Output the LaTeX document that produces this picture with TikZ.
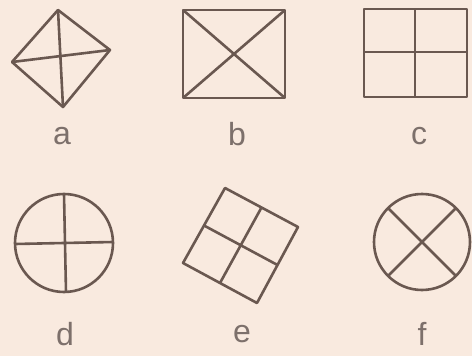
\documentclass[tikz,border=0pt]{standalone}
\usepackage{fontspec}
\setmainfont{Liberation Sans}
\usetikzlibrary{calc}
\definecolor{bg}{HTML}{F9EADF}
\definecolor{ink}{HTML}{6A5850}
\definecolor{txt}{HTML}{7D706B}
\begin{document}
\begin{tikzpicture}[x=1pt,y=-1pt,
  fig/.style={draw=ink,line width=2.6pt,line join=round},
  lbl/.style={text=txt,font=\fontsize{32}{32}\selectfont,inner sep=0pt}]
\fill[bg] (0,0) rectangle (472,356);
\useasboundingbox (0,0) rectangle (472,356);
% a: diamond
\coordinate (aT) at (58,10); \coordinate (aR) at (110,50);
\coordinate (aB) at (63,107); \coordinate (aL) at (12,62);
\draw[fig] (aT) -- (aR) -- (aB) -- (aL) -- cycle;
\draw[fig] (aT) -- (aB); \draw[fig] (aL) -- (aR);
\node[lbl] (la) at (62,136) {a};
% b: rectangle with diagonals
\coordinate (bTL) at (183,10); \coordinate (bTR) at (285,10);
\coordinate (bBR) at (285,98); \coordinate (bBL) at (183,98);
\draw[fig] (bTL) -- (bTR) -- (bBR) -- (bBL) -- cycle;
\draw[fig] (bTL) -- (bBR); \draw[fig] (bTR) -- (bBL);
\node[lbl] (lb) at (237,134) {b};
% c: square grid
\coordinate (cTL) at (364,9); \coordinate (cBR) at (467,97);
\draw[fig] (cTL) rectangle (cBR);
\coordinate (cT) at (415,9); \coordinate (cB) at (415,97);
\coordinate (cL) at (364,52); \coordinate (cR) at (467,52);
\draw[fig] (cT) -- (cB); \draw[fig] (cL) -- (cR);
\node[lbl] (lc) at (419,136) {c};
% d: circle with cross
\coordinate (dC) at (64,243);
\draw[fig] (dC) circle[radius=49];
\coordinate (dT) at (64,194); \coordinate (dB) at (66,292);
\coordinate (dL) at (15,244); \coordinate (dR) at (113,242);
\draw[fig] (dT) -- (dB); \draw[fig] (dL) -- (dR);
\node[lbl] (ld) at (65,334) {d};
% e: rotated grid
\coordinate (eT) at (225,188); \coordinate (eR) at (298,227);
\coordinate (eB) at (257,303); \coordinate (eL) at (183,263);
\draw[fig] (eT) -- (eR) -- (eB) -- (eL) -- cycle;
\draw[fig] ($(eT)!0.5!(eR)$) -- ($(eL)!0.5!(eB)$);
\draw[fig] ($(eT)!0.5!(eL)$) -- ($(eR)!0.5!(eB)$);
\node[lbl] (le) at (242,334) {e};
% f: circle with X
\coordinate (fC) at (422,242);
\draw[fig] (fC) circle[radius=48];
\draw[fig] ($(fC)+(-34,-34)$) -- ($(fC)+(34,34)$);
\draw[fig] ($(fC)+(34,-34)$) -- ($(fC)+(-34,34)$);
\node[lbl] (lf) at (422,334) {f};
\end{tikzpicture}
\end{document}
